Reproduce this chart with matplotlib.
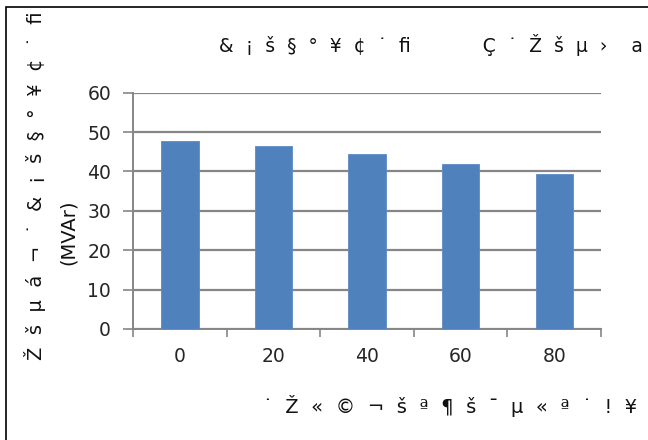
import matplotlib
matplotlib.use("Agg")
import matplotlib.pyplot as plt
from matplotlib.patches import Rectangle
import numpy as np

plt.rcParams['font.family'] = ['DejaVu Sans']

categories = ["0", "20", "40", "60", "80"]
values = [47.8, 46.4, 44.4, 42.0, 39.4]
y_ticks = [0, 10, 20, 30, 40, 50, 60]

title_text = "&  ¡  š  §  °  ¥  ¢  ˙  ﬁ            Ç  ˙  Ž  š  µ  ›    a"
ylabel_text = "Ž  š  µ  á  ¬  ˙  &  ¡  š  §  °  ¥  ¢  ˙  ﬁ"
ylabel_unit = "(MVAr)"
xlabel_text = "˙  Ž  «  ©  ¬  š  ª  ¶  š  ¯  µ  «  ª  ˙  !  ¥"

W, H = 648, 440
fig = plt.figure(figsize=(W / 100, H / 100), dpi=100)
fig.patch.set_facecolor("white")

# chart frame (top-left corner visible)
fig.patches.append(Rectangle((6 / W, -0.1), 1.2, 1 - 7 / H + 0.1,
                             transform=fig.transFigure, fill=False,
                             edgecolor="black", linewidth=1.2))

ax = fig.add_axes([133.3 / W, 1 - 329 / H, (601 - 133.3) / W, (329 - 92.7) / H])
x = np.arange(len(categories))
ax.bar(x, values, width=0.4, color="#4F81BD", edgecolor="#5B8BC6", linewidth=0.6, zorder=3)

ax.set_xlim(-0.5, len(categories) - 0.5)
ax.set_ylim(0, 60)
ax.set_yticks(y_ticks)
ax.set_yticklabels([str(t) for t in y_ticks])
ax.yaxis.grid(True, color="#868686", linewidth=1.6, zorder=0)

# category boundaries get tick marks, labels sit at the centers
ax.set_xticks(np.arange(-0.5, len(categories), 1.0))
ax.set_xticklabels([])
ax.set_xticks(x, minor=True)
ax.set_xticklabels(categories, minor=True)
ax.tick_params(axis="x", which="major", length=6, width=1.2, color="#868686")
ax.tick_params(axis="x", which="minor", length=0, pad=13, labelsize=13.5, labelcolor="#262626")
ax.tick_params(axis="y", length=7, width=1.2, color="#868686", pad=9,
               labelsize=13.5, labelcolor="#262626")

for side in ["top", "right"]:
    ax.spines[side].set_visible(False)
for side in ["left", "bottom"]:
    ax.spines[side].set_color("#868686")
    ax.spines[side].set_linewidth(1.4)

fig.text(219 / W, 1 - 45 / H, title_text, ha="left", va="center",
         fontsize=13.5, color="#111111")
fig.text(35 / W, 1 - 360 / H, ylabel_text, ha="center", va="bottom",
         rotation=90, fontsize=14, color="#111111")
fig.text(68 / W, 1 - 232 / H, ylabel_unit, ha="center", va="center",
         rotation=90, fontsize=14, color="#111111")
fig.text(263 / W, 1 - 406 / H, xlabel_text, ha="left", va="center",
         fontsize=14, color="#111111")

fig.savefig("out.png", dpi=100, facecolor="white")
